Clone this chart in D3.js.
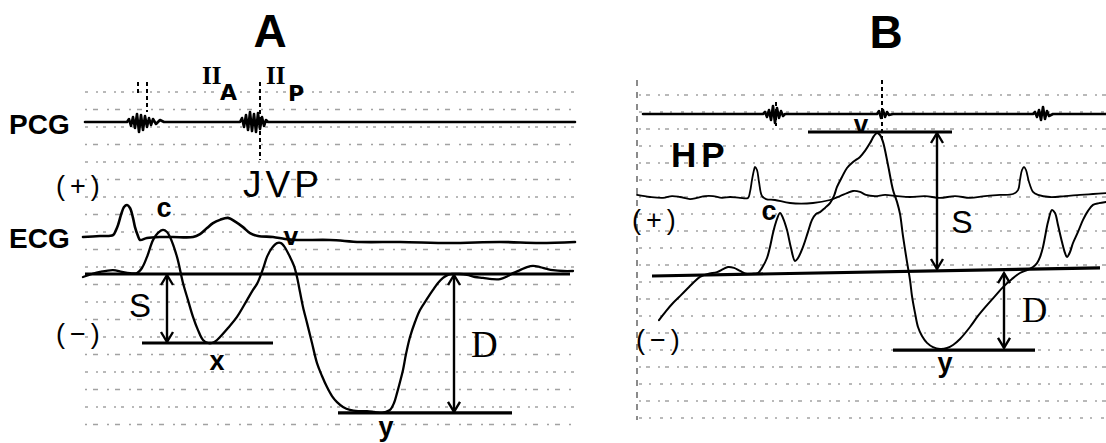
<!DOCTYPE html>
<html><head><meta charset="utf-8">
<script src="https://cdn.jsdelivr.net/npm/d3@7"></script>
<style>
html,body{margin:0;padding:0;background:#fff;}
svg{display:block;}
</style></head>
<body>
<script>
// ---------- DATA (time in ms, JVP in mm of paper, ECG in mV, PCG in arbitrary units) ----------
// Panel A (normal subject)
const jvpA_t = [0,18,34,60,78,94,108,118,128,140,150,160,168,174,188,200,210,220,230,240,250,258,266,274,290,308,328,340,348,354,362,368,378,388,396,402,414,422,428,434,440,448,458,468,478,488,498,508,520,534,550,568,582,594,604,614,622,628,634,640,646,654,664,674,688,700,710,720,730,738,754,768,784,800,818,834,846,860,874,888,900,914,928,940,960,980];
const jvpA_v = [-1.0,0,0.7,1.3,0.7,0.3,0.3,2.0,5.7,11.3,13.7,14.7,14.0,12.3,5.7,-3.0,-8.7,-14.3,-18.7,-22.0,-23.0,-23.0,-22.3,-21.0,-18.0,-14.3,-8.7,-5.3,-3.3,-1.0,2.7,5.7,8.7,10.3,10.3,9.3,5.7,2.7,-1.0,-6.0,-11.0,-16.3,-23.0,-29.7,-34.0,-37.7,-40.7,-42.7,-44.3,-45.3,-45.7,-45.7,-46.0,-46.3,-46.0,-45.3,-43.0,-39.7,-36.0,-32.0,-26.7,-21.0,-16.0,-12.0,-8.3,-5.3,-3.0,-1.3,-0.3,0,0,-0.3,-1.0,-1.3,-1.7,-1.7,-1.0,0.3,1.3,2.3,2.7,2.3,1.7,1.3,1.0,1.0];
const ecgA_t = [0,34,60,66,70,76,82,88,94,100,104,110,114,128,154,180,220,234,248,260,274,290,306,320,334,350,380,404,428,494,554,634,734,834,914,984];
const ecgA_v = [0.03,0.06,0.09,0.24,0.39,0.70,0.94,1.00,0.91,0.61,0.33,0.06,-0.06,0,0.03,0.03,0.03,0.12,0.30,0.45,0.55,0.61,0.48,0.33,0.15,0.06,0.03,-0.03,-0.06,-0.06,-0.12,-0.12,-0.15,-0.12,-0.15,-0.12];
const pcgA_t = [4,88,92,96,100,104,108,112,116,120,124,128,132,136,140,146,154,162,314,318,322,326,330,334,338,342,346,350,354,358,362,366,370,984];
const pcgA_v = [0,0,3,-4,5,-6,8,-10,7,-8,6,-5,4,-3,3,-2,2,0,0,4,-5,7,-8,10,-9,8,-10,9,-7,5,-4,2,0,0];
// reference levels of panel A
const baseA  = [4, 974, 0];
const xLineA = [118, 380, -23.0];
const yLineA = [510, 858, -46.3];
const sArrowA = [168, 0, -23.0];
const dArrowA = [742, 0, -46.3];

// Panel B (patient)
const jvpB_t = [44,58,72,86,102,114,126,142,160,172,182,194,206,220,230,242,250,260,266,272,278,286,292,300,308,316,322,332,342,350,358,366,376,386,394,400,410,420,432,446,456,466,474,480,486,492,502,512,520,526,532,540,546,550,556,562,570,580,592,606,620,632,646,666,682,700,716,732,750,766,780,792,800,806,812,816,822,830,836,842,850,856,860,866,872,882,892,902,912,924,938];
const jvpB_v = [-14.7,-11.7,-9.0,-6.7,-4.0,-2.0,-0.3,0.7,1.3,2.3,3.0,2.7,1.7,0.7,0.7,1.0,2.7,6.0,9.7,14.3,18.0,21.0,19.3,15.3,9.3,5.0,6.0,9.7,14.7,18.7,20.7,21.3,22.7,24.3,26.7,29.7,33.0,36.0,38.0,39.7,41.7,44.3,46.7,47.7,47.0,44.7,37.0,28.7,24.7,20.7,13.3,4.7,-1.3,-6.7,-12.3,-17.0,-20.0,-22.3,-23.7,-24.3,-24.0,-23.0,-21.0,-17.0,-13.3,-9.7,-6.7,-3.7,-1.0,1.0,2.0,3.0,4.3,6.3,9.7,13.0,18.0,22.0,21.0,17.0,11.3,7.7,6.3,8.0,11.0,14.7,18.7,21.7,23.7,24.3,24.7];
const ecgB_t = [0,26,52,70,86,106,120,136,152,170,186,206,222,226,230,234,236,240,244,250,258,276,306,352,386,406,420,432,446,458,476,496,520,546,576,606,636,666,696,726,752,762,766,770,774,778,784,792,802,826,856,886,912,938];
const ecgB_v = [0.07,0,-0.03,0.03,0,-0.07,-0.03,0.03,0.03,-0.03,0,-0.03,-0.03,0.17,0.57,0.9,1.0,0.9,0.5,0.03,-0.07,-0.1,-0.2,-0.2,-0.1,0.03,0.13,0.2,0.17,0.07,0.03,0.07,0.03,0,0.03,-0.03,0.03,-0.03,0.03,0.07,0.1,0.23,0.57,0.9,1.0,0.9,0.5,0.17,0.07,0,0.03,0.07,0.1,0.13];
const pcgB_t = [12,252,256,260,264,268,272,276,280,284,288,292,296,480,484,488,492,496,500,504,512,792,796,800,804,808,812,816,820,824,832,938];
const pcgB_v = [0,0,2,-3,4,-6,8,-9,6,-4,3,-2,0,0,3,-4,4,-3,2,-1,0,0,2,-3,4,-6,7,-5,3,-2,0,0];
const baseB  = [30, 926, 0, 2.7];
const vLineB = [342, 630, 48.0];
const yLineB = [512, 796, -24.7];
const sArrowB = [600, 48.0, 2.0];
const dArrowB = [734, 1.3, -24.3];

// ---------- SCALES ----------
const xA = d3.scaleLinear().domain([0, 984]).range([83, 575]);
const jvpYA = d3.scaleLinear().domain([0, 10]).range([274, 244]);
const ecgYA = d3.scaleLinear().domain([0, 1]).range([238, 205]);
const pcgYA = d3.scaleLinear().domain([0, 10]).range([122, 112]);

const xB = d3.scaleLinear().domain([0, 938]).range([637, 1106]);
const jvpYB = d3.scaleLinear().domain([0, 10]).range([276, 246]);
const ecgYB = d3.scaleLinear().domain([0, 1]).range([197, 167]);
const pcgYB = d3.scaleLinear().domain([0, 10]).range([114, 104]);

const svg = d3.select("body").append("svg").attr("width", 1106).attr("height", 443);

// ---------- scan-like dotted grid texture ----------
const gridG = svg.append("g").attr("stroke", "#000").attr("stroke-width", 1.3).attr("opacity", 0.36);
d3.range(92, 435, 17.5).forEach((y, i) => {
  gridG.append("line").attr("x1", xA(4)).attr("x2", xA(984)).attr("y1", y).attr("y2", y)
    .attr("stroke-dasharray", i % 2 ? "2 6 5 9" : "3 8 2 5");
});
d3.range(95, 420, 17).forEach((y, i) => {
  gridG.append("line").attr("x1", xB(4)).attr("x2", xB(938)).attr("y1", y).attr("y2", y)
    .attr("stroke-dasharray", i % 2 ? "3 7 2 9" : "2 5 4 8");
});
svg.append("line").attr("x1", xB(0)).attr("x2", xB(0)).attr("y1", 80).attr("y2", 420)
  .attr("stroke", "#000").attr("stroke-width", 1.5).attr("stroke-dasharray", "6 6").attr("opacity", 0.6);

// ---------- helpers ----------
function trace(t, v, x, y, w, curve) {
  const pts = t.map((d, i) => [d, v[i]]);
  svg.append("path").datum(pts)
    .attr("d", d3.line().x(d => x(d[0])).y(d => y(d[1])).curve(curve || d3.curveCatmullRom.alpha(0.5)))
    .attr("fill", "none").attr("stroke", "#000").attr("stroke-width", w)
    .attr("stroke-linejoin", "round").attr("stroke-linecap", "round");
}
function hline(x1, y1, x2, y2, w) {
  svg.append("line").attr("x1", x1).attr("y1", y1).attr("x2", x2).attr("y2", y2)
    .attr("stroke", "#000").attr("stroke-width", w);
}
function arrow(x, ya, yb) {
  const y1 = Math.min(ya, yb), y2 = Math.max(ya, yb);
  hline(x, y1 + 1, x, y2 - 1, 2.4);
  svg.append("path").attr("d", `M${x-6},${y1+11}L${x},${y1+1}L${x+6},${y1+11}M${x-6},${y2-11}L${x},${y2-1}L${x+6},${y2-11}`)
    .attr("fill", "none").attr("stroke", "#000").attr("stroke-width", 2.4);
}
function dashV(x, y1, y2) {
  svg.append("line").attr("x1", x).attr("x2", x).attr("y1", y1).attr("y2", y2)
    .attr("stroke", "#000").attr("stroke-width", 2).attr("stroke-dasharray", "4 3");
}
function label(txt, x, y, opts) {
  const o = Object.assign({size: 26, weight: "bold", family: "'Liberation Sans', Arial, sans-serif", anchor: "start", ls: 0}, opts || {});
  svg.append("text").attr("x", x).attr("y", y).text(txt)
    .attr("font-family", o.family).attr("font-size", o.size).attr("font-weight", o.weight)
    .attr("text-anchor", o.anchor).attr("letter-spacing", o.ls).attr("fill", "#000");
}

// ---------- Panel A ----------
trace(pcgA_t, pcgA_v, xA, pcgYA, 2.6, d3.curveLinear);
dashV(xA(110), pcgYA(40), pcgYA(27));
dashV(xA(128), pcgYA(40), pcgYA(10));
dashV(xA(354), pcgYA(40), pcgYA(-38));
trace(ecgA_t, ecgA_v, xA, ecgYA, 2.6);
hline(xA(baseA[0]), jvpYA(baseA[2]), xA(baseA[1]), jvpYA(baseA[2]), 3.2);
hline(xA(xLineA[0]), jvpYA(xLineA[2]), xA(xLineA[1]), jvpYA(xLineA[2]), 3.2);
hline(xA(yLineA[0]), jvpYA(yLineA[2]), xA(yLineA[1]), jvpYA(yLineA[2]), 3.2);
trace(jvpA_t, jvpA_v, xA, jvpYA, 2.3);
arrow(xA(sArrowA[0]), jvpYA(sArrowA[1]), jvpYA(sArrowA[2]));
arrow(xA(dArrowA[0]), jvpYA(dArrowA[1]), jvpYA(dArrowA[2]));

label("A", 270, 47, {size: 46, anchor: "middle"});
label("PCG", 9, 134, {size: 28});
label("ECG", 9, 248, {size: 28});
label("(+)", 56, 195, {size: 27, weight: "normal", ls: 5});
label("(\u2212)", 56, 343, {size: 27, weight: "normal", ls: 5});
label("II", 202, 84, {size: 25, weight: "bold", family: "'Liberation Serif', serif", ls: 0});
label("A", 220, 100, {size: 22, family: "'DejaVu Sans', sans-serif", weight: "bold"});
label("II", 266, 84, {size: 25, weight: "bold", family: "'Liberation Serif', serif", ls: 0});
label("P", 288, 101, {size: 22, family: "'DejaVu Sans', sans-serif", weight: "bold"});
label("JVP", 243, 197, {size: 37, weight: "normal", ls: 4});
label("c", 164, 217, {size: 27, anchor: "middle"});
label("v", 291, 245, {size: 26, anchor: "middle"});
label("x", 217, 370, {size: 27, anchor: "middle"});
label("y", 386, 436, {size: 27, anchor: "middle"});
label("S", 140, 317, {size: 33, weight: "normal", anchor: "middle"});
label("D", 471, 357, {size: 37, weight: "normal", family: "'Liberation Serif', serif"});

// ---------- Panel B ----------
trace(pcgB_t, pcgB_v, xB, pcgYB, 2.6, d3.curveLinear);
dashV(xB(278), pcgYB(12), pcgYB(-12));
dashV(xB(490), pcgYB(34), pcgYB(-26));
trace(ecgB_t, ecgB_v, xB, ecgYB, 1.8);
hline(xB(baseB[0]), jvpYB(baseB[2]), xB(baseB[1]), jvpYB(baseB[3]), 3.2);
hline(xB(vLineB[0]), jvpYB(vLineB[2]), xB(vLineB[1]), jvpYB(vLineB[2]), 3.2);
hline(xB(yLineB[0]), jvpYB(yLineB[2]), xB(yLineB[1]), jvpYB(yLineB[2]), 3.2);
trace(jvpB_t, jvpB_v, xB, jvpYB, 2.0);
arrow(xB(sArrowB[0]), jvpYB(sArrowB[1]), jvpYB(sArrowB[2]));
arrow(xB(dArrowB[0]), jvpYB(dArrowB[1]), jvpYB(dArrowB[2]));

label("B", 886, 48, {size: 46, anchor: "middle"});
label("HP", 671, 167, {size: 35, ls: 5});
label("(+)", 632, 229, {size: 27, weight: "normal", ls: 5});
label("(\u2212)", 636, 349, {size: 27, weight: "normal", ls: 5});
label("c", 769, 220, {size: 27, anchor: "middle"});
label("v", 861, 133, {size: 26, anchor: "middle"});
label("y", 945, 372, {size: 27, anchor: "middle"});
label("S", 962, 233, {size: 32, weight: "normal", anchor: "middle"});
label("D", 1022, 322, {size: 35, weight: "normal", family: "'Liberation Serif', serif"});
</script>
</body></html>
